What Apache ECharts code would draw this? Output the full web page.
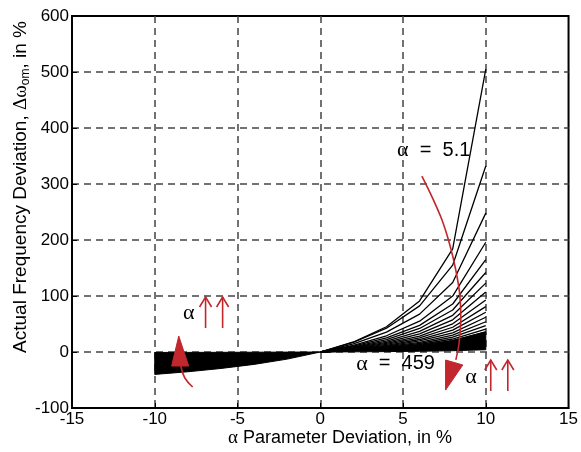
<!DOCTYPE html>
<html>
<head>
<meta charset="utf-8">
<script src="https://cdn.jsdelivr.net/npm/echarts@6/dist/echarts.min.js"></script>
<style>
  html, body { margin: 0; padding: 0; background: #fff; }
  #chart { width: 581px; height: 452px; }
</style>
</head>
<body>
<div id="chart"></div>
<script>
// Parameter deviation samples (%) for the positive half of each curve
const xPos = [0, 2, 4, 6, 8, 10];

// Frequency deviation (%) for each alpha, from alpha = 5.1 (steepest) downward
const c01 = [0, 17.9, 45.1, 91.2, 184, 505];
const c02 = [0, 17.3, 42.5, 82.4, 155, 332];
const c03 = [0, 14.6, 35.4, 67.6, 124, 248];
const c04 = [0, 12.0, 29.0, 55.0, 99.9, 196];
const c05 = [0, 10.4, 25.2, 47.6, 85.7, 165];
const c06 = [0, 9.3, 22.3, 42.0, 75.0, 142];
const c07 = [0, 8.2, 19.6, 36.8, 65.5, 123];
const c08 = [0, 7.2, 17.3, 32.4, 57.5, 107];
const c09 = [0, 6.4, 15.3, 28.5, 50.3, 93];
const c10 = [0, 5.7, 13.5, 25.1, 44.2, 81];
const c11 = [0, 5.0, 12.0, 22.3, 39.0, 71];
const c12 = [0, 4.5, 10.6, 19.7, 34.3, 62];
const c13 = [0, 3.9, 9.4, 17.3, 30.1, 54];
const c14 = [0, 3.5, 8.3, 15.2, 26.4, 47];
const c15 = [0, 3.1, 7.3, 13.4, 23.2, 41];
const c16 = [0, 2.7, 6.5, 11.9, 20.5, 36];
const curveList = [c01, c02, c03, c04, c05, c06, c07, c08, c09, c10, c11, c12, c13, c14, c15, c16];

// Envelope of the tightly packed bundle (alpha up to 459), full deviation range
const xFull = [-10, -8, -6, -4, -2, 0, 2, 4, 6, 8, 10];
const bundleLow  = [-40, -35.3, -29.4, -22.1, -12.7, 0, 0.3, 0.7, 1.3, 2.3, 4];
const bundleHigh = [-0.8, -0.7, -0.6, -0.4, -0.2, 0, 2.7, 6.5, 11.9, 20.5, 36];

// Axis ranges
const xTicks = { min: -15, max: 15, step: 5 };
const yTicks = { min: -100, max: 600, step: 100 };

// Red guide arrow through the curve family (data coordinates)
const sweepX = [6.14, 6.75, 7.35, 7.83, 8.19, 8.43, 8.49, 8.37, 8.19];
const sweepY = [314, 277, 236, 191, 146, 102, 57, 12.5, -14];
const sweepHeadX = [7.57, 8.61, 7.57];
const sweepHeadY = [-14.3, -23.2, -68];
const liftX = [-8.43, -8.19, -7.71];
const liftY = [-25, -46, -62.5];
const liftHeadX = [-8.55, -8.98, -7.95];
const liftHeadY = [28.6, -25, -25];

const RED = '#c1272d';
const SANS = '"Liberation Sans", Arial, sans-serif';
const SERIF = '"Liberation Serif", "DejaVu Serif", serif';

const series = [];
// Dense bundle drawn as one filled polygon between its lower and upper envelopes
series.push({
  type: 'custom', silent: true, z: 2,
  data: [0],
  renderItem: function (params, api) {
    const points = [];
    xFull.forEach((x, i) => points.push(api.coord([x, bundleLow[i]])));
    for (let i = xFull.length - 1; i >= 0; i--) points.push(api.coord([xFull[i], bundleHigh[i]]));
    return {
      type: 'polygon',
      shape: { points: points },
      style: { fill: '#000', stroke: '#000', lineWidth: 1 }
    };
  }
});
curveList.forEach((c) => {
  series.push({
    type: 'line', silent: true, symbol: 'none',
    lineStyle: { color: '#000', width: 1.3 },
    data: xPos.map((x, i) => [x, c[i]]), z: 3
  });
});

const option = {
  animation: false,
  backgroundColor: '#fff',
  grid: {
    left: 72, right: 11, top: 16, bottom: 44,
    show: true, borderColor: '#000', borderWidth: 2, backgroundColor: 'transparent'
  },
  xAxis: {
    type: 'value', min: xTicks.min, max: xTicks.max, interval: xTicks.step,
    axisLine: { show: true, onZero: false, lineStyle: { color: '#000', width: 2 } },
    axisTick: { show: true, inside: true, length: 5, lineStyle: { color: '#000' } },
    axisLabel: { color: '#000', fontSize: 17, fontFamily: SANS, margin: 3 },
    splitLine: { show: true, showMinLine: false, showMaxLine: false,
      lineStyle: { type: [7, 5], color: '#444', width: 1.5 } }
  },
  yAxis: {
    type: 'value', min: yTicks.min, max: yTicks.max, interval: yTicks.step,
    axisLine: { show: true, onZero: false, lineStyle: { color: '#000', width: 2 } },
    axisTick: { show: true, inside: true, length: 5, lineStyle: { color: '#000' } },
    axisLabel: { color: '#000', fontSize: 17, fontFamily: SANS, margin: 3 },
    splitLine: { show: true, showMinLine: false, showMaxLine: false,
      lineStyle: { type: [7, 5], color: '#444', width: 1.5 } }
  },
  series: series
};

const chart = echarts.init(document.getElementById('chart'), null, { renderer: 'canvas' });
chart.setOption(option);

const px = (x, y) => chart.convertToPixel({ xAxisIndex: 0, yAxisIndex: 0 }, [x, y]);
const pts = (xs, ys) => xs.map((x, i) => px(x, ys[i]));

// Open up-arrow glyph (shaft + head) at a data anchor
function upArrow(x, yBottom, yTop) {
  const b = px(x, yBottom), t = px(x, yTop);
  return [
    { type: 'line', z: 20, shape: { x1: b[0], y1: b[1], x2: t[0], y2: t[1] },
      style: { stroke: RED, lineWidth: 1.6 } },
    { type: 'polyline', z: 20,
      shape: { points: [[t[0] - 6, t[1] + 10], [t[0], t[1]], [t[0] + 6, t[1] + 10]] },
      style: { stroke: RED, lineWidth: 1.6, fill: null } }
  ];
}

function label(x, y, text, opts) {
  const p = px(x, y);
  return {
    type: 'text', z: 25, x: p[0], y: p[1],
    style: Object.assign({ text: text, fill: '#000', fontSize: 20, fontFamily: SANS,
      align: 'left', verticalAlign: 'middle',
      rich: { a: { fontFamily: SERIF, fontSize: 22, fill: '#000' } } }, opts || {})
  };
}

const graphics = [];
graphics.push({ type: 'polyline', z: 20, shape: { points: pts(sweepX, sweepY), smooth: 0.3 },
  style: { stroke: RED, lineWidth: 1.6, fill: null } });
graphics.push({ type: 'polygon', z: 20, shape: { points: pts(sweepHeadX, sweepHeadY) },
  style: { fill: RED, stroke: RED, lineWidth: 1 } });
graphics.push({ type: 'polyline', z: 20, shape: { points: pts(liftX, liftY), smooth: 0.4 },
  style: { stroke: RED, lineWidth: 1.6, fill: null } });
graphics.push({ type: 'polygon', z: 20, shape: { points: pts(liftHeadX, liftHeadY) },
  style: { fill: RED, stroke: RED, lineWidth: 1 } });

graphics.push(...upArrow(-6.93, 42.9, 98.2));
graphics.push(...upArrow(-5.90, 42.9, 98.2));
graphics.push(...upArrow(10.30, -69.6, -14.3));
graphics.push(...upArrow(11.33, -69.6, -14.3));

graphics.push(label(-7.95, 69.6, '{a|α}', { align: 'center' }));
graphics.push(label(9.10, -44.6, '{a|α}', { align: 'center' }));
graphics.push(label(4.64, 360.7, '{a|α}  =  5.1'));
graphics.push(label(2.17, -21.4, '{a|α}  =  459'));

// Axis titles
graphics.push({
  type: 'text', z: 25, x: 340, y: 438,
  style: { text: '{a|α} Parameter Deviation, in %', fill: '#000', fontSize: 18, fontFamily: SANS,
    align: 'center', verticalAlign: 'middle',
    rich: { a: { fontFamily: SERIF, fontSize: 19, fill: '#000' } } }
});
graphics.push({
  type: 'text', z: 25, x: 21, y: 187, rotation: Math.PI / 2,
  style: {
    text: 'Actual Frequency Deviation, {g|Δω}{s|om}, in %',
    fill: '#000', fontSize: 19, fontFamily: SANS, align: 'center', verticalAlign: 'middle',
    rich: {
      g: { fontFamily: SERIF, fontSize: 19, fill: '#000', lineHeight: 22 },
      s: { fontFamily: SANS, fontSize: 12, fill: '#000', lineHeight: 22, verticalAlign: 'bottom', padding: [8, 0, 0, 0] }
    }
  }
});

chart.setOption({ graphic: graphics });
</script>
</body>
</html>
